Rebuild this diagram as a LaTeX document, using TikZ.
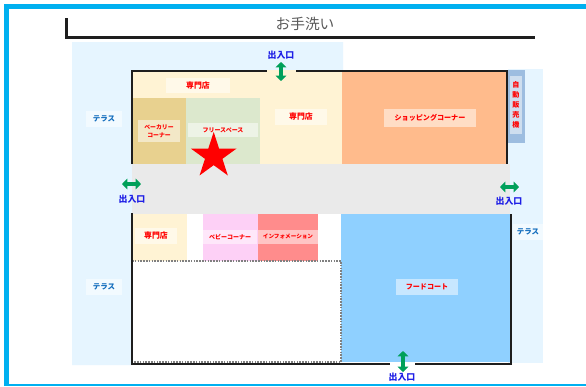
\documentclass[tikz,border=0pt]{standalone}
\usepackage{fontspec}
\usepackage{xcolor}
\usetikzlibrary{arrows.meta}
\usetikzlibrary{shapes.geometric}
\newfontfamily\cjk{Noto Sans CJK JP}
\newcommand{\labelsize}[2]{\cjk\bfseries\fontsize{#1}{#2}\selectfont}
\definecolor{framecyan}{RGB}{0,176,240}
\definecolor{terrace}{RGB}{230,245,255}
\definecolor{cream}{RGB}{255,243,212}
\definecolor{bakery}{RGB}{232,209,143}
\definecolor{freespace}{RGB}{220,232,205}
\definecolor{shopping}{RGB}{255,187,140}
\definecolor{vending}{RGB}{157,189,224}
\definecolor{corridor}{RGB}{234,234,234}
\definecolor{baby}{RGB}{253,208,246}
\definecolor{info}{RGB}{255,140,140}
\definecolor{food}{RGB}{143,208,255}
\definecolor{gate}{RGB}{0,160,90}
\tikzset{
  roomlabel/.style={fill=white,fill opacity=0.5,text opacity=1,text=red,inner sep=0pt,font=\labelsize{5.3}{6.2},align=center},
  terracelabel/.style={fill=white,fill opacity=0.5,text opacity=1,text={rgb,255:red,20;green,110;blue,190},inner sep=0pt,font=\labelsize{5.6}{6.5}},
  gatelabel/.style={text={rgb,255:red,30;green,30;blue,230},inner sep=0pt,font=\labelsize{6.7}{8}},
  wall/.style={line width=1.5pt,color={rgb,255:red,30;green,30;blue,30}},
  gatearrow/.style={{Triangle[length=4pt,width=8pt]}-{Triangle[length=4pt,width=8pt]},line width=2.4pt,color=gate}
}
\begin{document}
\begin{tikzpicture}[x=0.75pt,y=0.75pt,yscale=-1,xscale=1]
\useasboundingbox (0,0) rectangle (586,386);

%Frame
\fill[white] (0,0) rectangle (586,386);
\fill[framecyan] (4,4) rectangle (586,8.7);
\fill[framecyan] (4,4) rectangle (8.7,386);
\fill[framecyan] (4,384) rectangle (586,386);

%Terraces
\fill[terrace] (72,42) -- (343,42) -- (343,70) -- (132,70) -- (132,365) -- (72,365) -- cycle;
\fill[terrace] (508,69) rectangle (543,363);

%Rooms upper
\fill[cream] (132,70) rectangle (343,164);
\fill[bakery] (132,98) rectangle (186,164);
\fill[freespace] (186,98) rectangle (260,164);
\fill[shopping] (342,70) rectangle (507,164);
\fill[vending] (508,70) rectangle (525,143);
%Corridor
\fill[corridor] (132,164) rectangle (510,213.5);
%Rooms lower
\fill[cream] (132,213.5) rectangle (187,261);
\fill[baby] (203,213.5) rectangle (258,261);
\fill[info] (258,213.5) rectangle (318,261);
\fill[food] (341,214) rectangle (510,362);
\draw[gray,line width=0.9pt,dash pattern=on 1.2pt off 0.9pt] (132,261) -- (341,261) -- (341,362) -- (132,362);

%Walls
\draw[wall] (132,164) -- (132,70.5) -- (267,70.5);
\draw[wall] (296,70.5) -- (507,70.5) -- (507,164);
\draw[wall] (132,213) -- (132,364) -- (390,364);
\draw[wall] (415,363.5) -- (511,363.5) -- (511,214);
\draw[wall,line width=1.7pt] (66.5,18) -- (66.5,37.5) -- (535,37.5);

%Labels
\node (wc) [inner sep=0pt,text={rgb,255:red,90;green,90;blue,90},font=\cjk\fontsize{11}{13}\selectfont] at (305,23.5) {お手洗い};
\node (shopA) [roomlabel,font=\labelsize{5.9}{7},minimum width=48.5pt,minimum height=11.5pt] at (198,85.5) {専門店};
\node (bakeryLbl) [roomlabel,font=\labelsize{4.4}{6.2},minimum width=31.5pt,minimum height=17pt] at (159,131) {ベーカリー\\コーナー};
\node (freeLbl) [roomlabel,font=\labelsize{4.5}{6},minimum width=52.5pt,minimum height=10.5pt] at (223,130) {フリースペース};
\node (shopB) [roomlabel,font=\labelsize{5.9}{7},minimum width=39.5pt,minimum height=12pt] at (301,117) {専門店};
\node (shoppingLbl) [roomlabel,minimum width=68.5pt,minimum height=13pt] at (430,118) {ショッピングコーナー};
\node (vendingLbl) [roomlabel,font=\labelsize{5.3}{7.4},minimum width=9pt,minimum height=43pt] at (516,105) {自\\動\\販\\売\\機};
\node (shopC) [roomlabel,font=\labelsize{5.9}{7},minimum width=31.5pt,minimum height=12pt] at (156,235.5) {専門店};
\node (babyLbl) [roomlabel,font=\labelsize{4.5}{6},minimum width=41pt,minimum height=10.5pt] at (230,237) {ベビーコーナー};
\node (infoLbl) [roomlabel,font=\labelsize{4.2}{6},minimum width=45pt,minimum height=10.5pt] at (288,236.5) {インフォメーション};
\node (foodLbl) [roomlabel,minimum width=47pt,minimum height=12.5pt] at (427,287) {フードコート};
\node (terraceA) [terracelabel,minimum width=26.5pt,minimum height=11.5pt] at (104,119) {テラス};
\node (terraceB) [terracelabel,minimum width=26.5pt,minimum height=12pt] at (104,287) {テラス};
\node (terraceC) [terracelabel,minimum width=22.5pt,minimum height=12pt] at (528,232) {テラス};

%Gates
\node (gateTop) [gatelabel] at (281,55) {出入口};
\node (gateLeft) [gatelabel] at (132,199) {出入口};
\node (gateRight) [gatelabel] at (509,201) {出入口};
\node (gateBottom) [gatelabel] at (402,377) {出入口};
\coordinate (topA) at (281,62);
\coordinate (topB) at (281,81);
\coordinate (leftA) at (122,184);
\coordinate (leftB) at (141,184);
\coordinate (rightA) at (500,187);
\coordinate (rightB) at (519,187);
\coordinate (bottomA) at (403,351);
\coordinate (bottomB) at (403,372);
\draw[gatearrow] (topA) -- (topB);
\draw[gatearrow] (leftA) -- (leftB);
\draw[gatearrow] (rightA) -- (rightB);
\draw[gatearrow] (bottomA) -- (bottomB);

%Star
\node (here) [star,star points=5,star point ratio=2.618,fill=red,inner sep=0pt,minimum size=36pt] at (213.7,156) {};

\end{tikzpicture}
\end{document}
